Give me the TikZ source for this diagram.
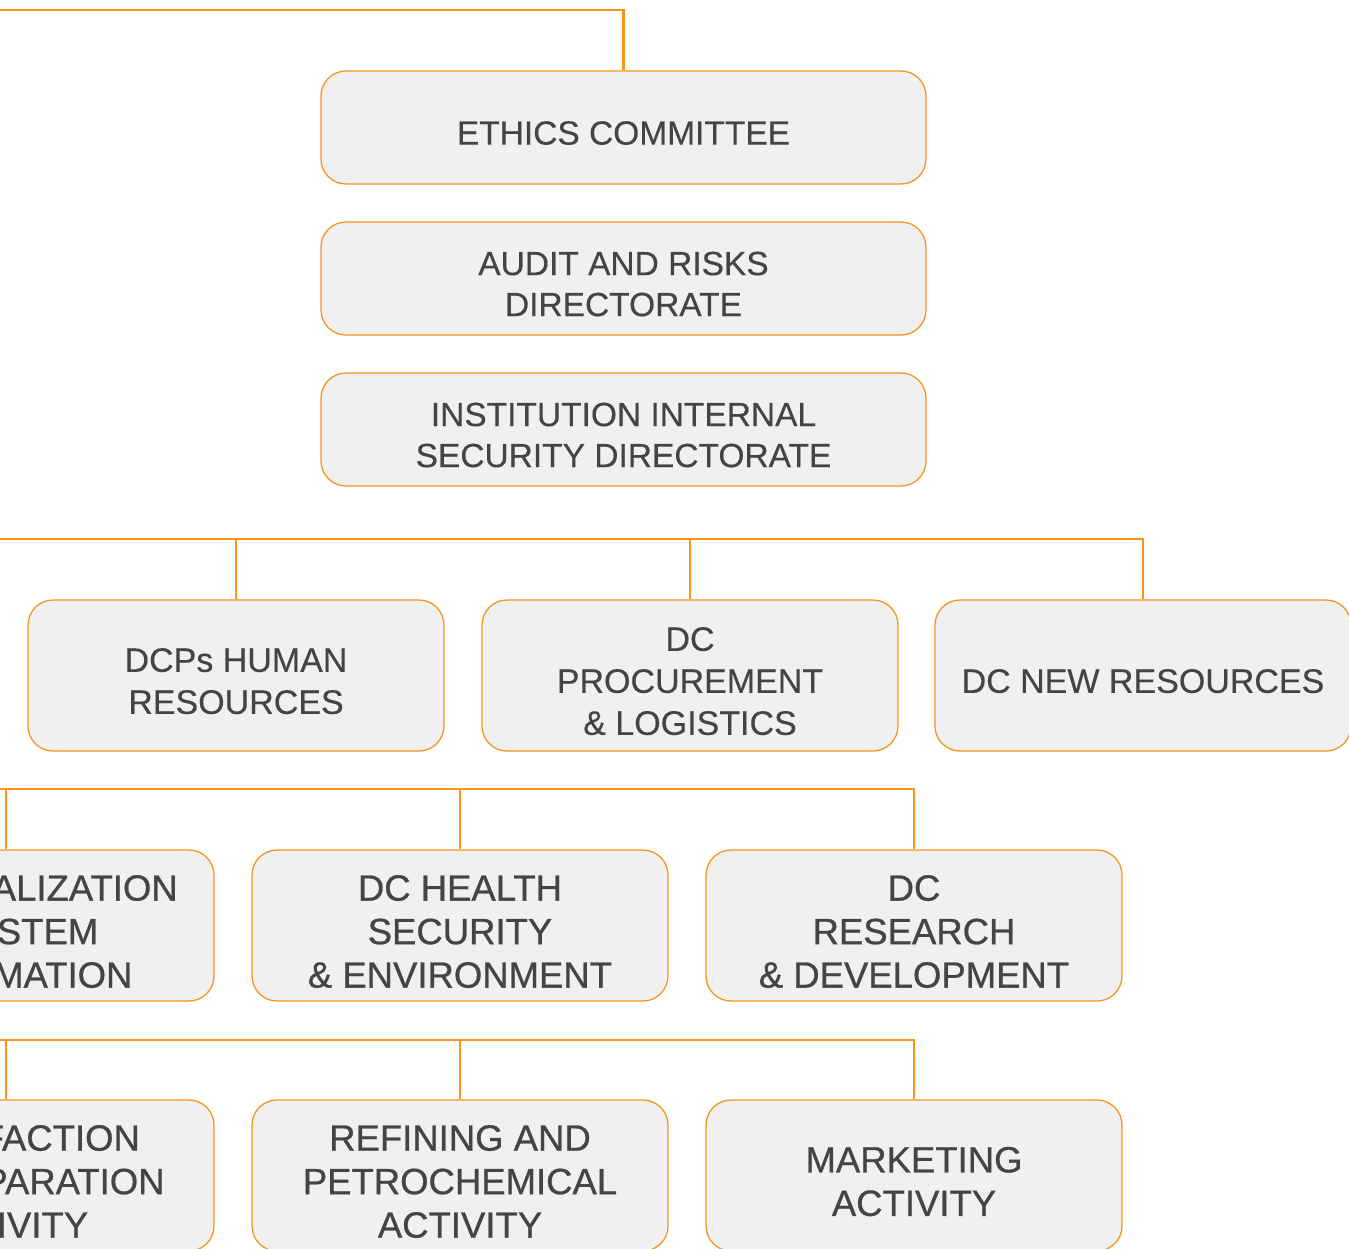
\documentclass[tikz,border=0pt]{standalone}
\usepackage{fontspec}
\setmainfont{Liberation Sans}[FakeBold=0.3]
\newfontfamily\heavyfont{Liberation Sans}[FakeBold=0.7]
\definecolor{orgorange}{HTML}{F7941D}
\definecolor{boxgray}{HTML}{F0F0F0}
\definecolor{textgray}{HTML}{444444}
\newcommand\boxstrut{\rule{0pt}{1.03em}}
\tikzset{
    link/.style ={draw=orgorange, line width=2.6pt},
    TB/.style ={rectangle, rounded corners=25pt, draw=orgorange, line width=1.3pt, fill=boxgray,
        minimum width=605pt, minimum height=113pt, align=center, text=textgray,
        font=\fontsize{33.5}{41}\selectfont},
    UB/.style ={TB, minimum width=416pt, minimum height=151pt,
        font=\fontsize{34}{42}\selectfont},
    AB/.style ={UB, font=\heavyfont\fontsize{36.5}{43.5}\selectfont}}

\begin{document}
\begin{tikzpicture}[x=1pt,y=-1pt]
        \useasboundingbox (0,0) rectangle (1349,1249);
        \clip (0,0) rectangle (1349,1249);
        % top boxes
        \node[TB] (ethics) at(623.5,127.5) {\boxstrut ETHICS COMMITTEE};
        \node[TB] (audit) at(623.5,278.5) {\boxstrut AUDIT AND RISKS\\DIRECTORATE};
        \node[TB] (security) at(623.5,429.5) {\boxstrut INSTITUTION INTERNAL\\SECURITY DIRECTORATE};
        % central directorates
        \node[UB] (hr) at(236,675.5) {\boxstrut DCPs HUMAN\\RESOURCES};
        \node[UB] (proc) at(690,675.5) {\boxstrut DC\\PROCUREMENT\\\& LOGISTICS};
        \node[UB] (newres) at(1143,675.5) {\boxstrut DC NEW RESOURCES};
        \node[AB] (digit) at(6,925.5) {\boxstrut DC DIGITALIZATION\\\& SYSTEM\\INFORMATION};
        \node[AB] (hse) at(460,925.5) {\boxstrut DC HEALTH\\SECURITY\\\& ENVIRONMENT};
        \node[AB] (rnd) at(914,925.5) {\boxstrut DC\\RESEARCH\\\& DEVELOPMENT};
        % activities
        \node[AB] (lqs) at(6,1175.5) {\boxstrut LIQUEFACTION\\GAS SEPARATION\\ACTIVITY};
        \node[AB] (rpc) at(460,1175.5) {\boxstrut REFINING AND\\PETROCHEMICAL\\ACTIVITY};
        \node[AB] (mkt) at(914,1175.5) {\boxstrut MARKETING\\ACTIVITY};
        % buses
        \coordinate (top) at(0,10);
        \coordinate (busA) at(0,539);
        \coordinate (busB) at(0,789);
        \coordinate (busC) at(0,1040);
        \draw[link] (top) -| (ethics);
        \draw[link] (busA) -| (newres);
        \draw[link] (hr) -- (hr |- busA);
        \draw[link] (proc) -- (proc |- busA);
        \draw[link] (busB) -| (rnd);
        \draw[link] (digit) -- (digit |- busB);
        \draw[link] (hse) -- (hse |- busB);
        \draw[link] (busC) -| (mkt);
        \draw[link] (lqs) -- (lqs |- busC);
        \draw[link] (rpc) -- (rpc |- busC);
    \end{tikzpicture}
\end{document}
